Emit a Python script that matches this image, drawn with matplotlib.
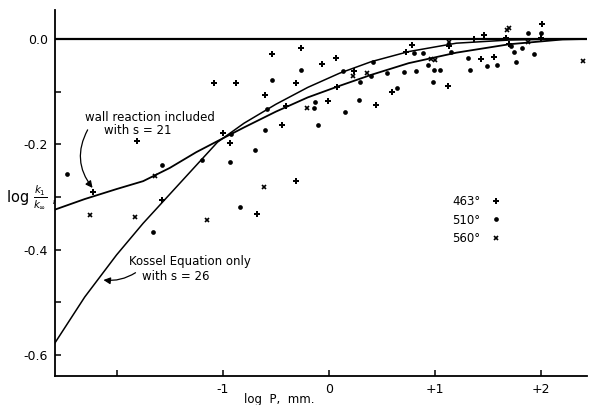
import numpy as np
import matplotlib
matplotlib.use('Agg')
import matplotlib.pyplot as plt

plt.rcParams['font.family'] = ['DejaVu Sans']
plt.rcParams['axes.unicode_minus'] = False

logp_curve = [-2.58, -2.3, -2.0, -1.75, -1.5, -1.25, -1.05, -0.8, -0.5, -0.2,
              0.1, 0.4, 0.75, 1.2, 1.7, 2.2, 2.43]
kossel = [-0.577, -0.49, -0.41, -0.35, -0.295, -0.24, -0.196, -0.16, -0.124,
          -0.092, -0.065, -0.043, -0.024, -0.008, -0.002, 0.0, 0.0]
wall = [-0.324, -0.304, -0.285, -0.27, -0.245, -0.215, -0.194, -0.168, -0.138,
        -0.111, -0.089, -0.068, -0.046, -0.026, -0.010, -0.001, 0.0]

# 463 deg
x463 = [-1.81, -2.22, -1.57, -0.54, -0.26, -0.07, 0.07, -0.31, -1.08, -0.88,
        -0.60, -0.40, -0.01, 0.44, 0.59, 0.08, 0.24, -0.44, -1.00, -0.93,
        -0.31, -0.68, 0.78, 0.73, 1.12, 1.13, 1.37, 1.43, 1.46, 1.55, 1.67,
        1.70, 2.00, 2.01]
y463 = [-0.194, -0.291, -0.305, -0.029, -0.017, -0.048, -0.036, -0.084, -0.084,
        -0.084, -0.107, -0.128, -0.118, -0.126, -0.101, -0.091, -0.061, -0.164,
        -0.179, -0.198, -0.269, -0.333, -0.011, -0.025, -0.090, -0.013, 0.000,
        -0.038, 0.008, -0.034, 0.002, -0.010, 0.002, 0.029]
# 510 deg
x510 = [-1.57, -2.47, -1.66, -0.26, -0.54, -0.58, -0.14, -0.13, 0.15, 0.28,
        0.64, 0.29, 0.40, 0.41, 0.55, 0.13, -0.60, -0.10, -0.93, -0.70, -1.20,
        -0.92, -0.84, 0.71, 0.82, 0.80, 0.89, 0.93, 0.99, 1.05, 0.98, 1.15,
        1.31, 1.33, 1.49, 1.58, 1.71, 1.74, 1.76, 1.82, 1.87, 1.93, 2.00]
y510 = [-0.240, -0.257, -0.366, -0.059, -0.078, -0.133, -0.131, -0.120, -0.139,
        -0.116, -0.093, -0.082, -0.070, -0.044, -0.065, -0.061, -0.173, -0.164,
        -0.234, -0.211, -0.229, -0.181, -0.320, -0.063, -0.061, -0.027, -0.027,
        -0.050, -0.059, -0.059, -0.082, -0.025, -0.036, -0.059, -0.051, -0.050,
        -0.013, -0.025, -0.044, -0.017, 0.011, -0.029, 0.011]
# 560 deg
x560 = [-1.64, -2.25, -1.83, -0.21, 0.23, 0.36, -0.61, -1.15, 0.96, 1.00,
        1.13, 1.68, 1.70, 1.87, 2.39]
y560 = [-0.261, -0.335, -0.339, -0.131, -0.070, -0.065, -0.282, -0.343, -0.038,
        -0.040, -0.006, 0.017, 0.021, -0.006, -0.042]

xticks = [-2, -1, 0, 1, 2]
xticklabels = ['', '-1', '0', '+1', '+2']
yticks = [0.0, -0.1, -0.2, -0.3, -0.4, -0.5, -0.6]
yticklabels = ['0.0', '', '-0.2', '', '-0.4', '', '-0.6']

fig = plt.figure(figsize=(5.92, 4.05), dpi=100)
ax = fig.add_axes([55/592, 1-376/405, 532/592, 366/405])

ax.plot(logp_curve, kossel, 'k', lw=1.1)
ax.plot(logp_curve, wall, 'k', lw=1.3)
ax.axhline(0.0, color='k', lw=1.6)

ax.plot(x463, y463, 'P', color='k', ms=4.8, mew=0, ls='none', label='463°')
ax.plot(x510, y510, 'o', color='k', ms=3.4, mew=0, ls='none', label='510°')
ax.plot(x560, y560, 'x', color='k', ms=3.5, mew=1.2, ls='none', label='560°')

ax.set_xlim(-2.58, 2.43)
ax.set_ylim(-0.64, 0.055)
ax.spines['top'].set_visible(False)
ax.spines['right'].set_visible(False)
ax.spines['left'].set_linewidth(1.3)
ax.spines['bottom'].set_linewidth(1.3)
ax.set_xticks(xticks)
ax.set_xticklabels(xticklabels)
ax.set_yticks(yticks)
ax.set_yticklabels(yticklabels)
ax.tick_params(direction='in', length=4, width=1.1, labelsize=9, pad=5)

ax.legend(loc='upper left', bbox_to_anchor=(0.735, 0.51), frameon=False,
          markerfirst=False, fontsize=8.5, handlelength=1.0,
          handletextpad=0.8, labelspacing=0.45, borderpad=0)

kw = dict(fontsize=8.5, ha='center', va='center')
ax.text(-1.685, -0.149, 'wall reaction included', **kw)
ax.text(-1.80, -0.173, 'with s = 21', **kw)
ax.text(-1.31, -0.423, 'Kossel Equation only', **kw)
ax.text(-1.44, -0.451, 'with s = 26', **kw)

ax.annotate('', xy=(-2.21, -0.287), xytext=(-2.26, -0.168),
            arrowprops=dict(arrowstyle='-|>', color='k', lw=0.9,
                            connectionstyle='arc3,rad=0.35'))
ax.annotate('', xy=(-2.15, -0.457), xytext=(-1.80, -0.441),
            arrowprops=dict(arrowstyle='-|>', color='k', lw=0.9,
                            connectionstyle='arc3,rad=-0.2'))

fig.text(6/592, 1-197/405, r'$\log\,\frac{k_1}{k_\infty}$ ,', fontsize=10.5,
         ha='left', va='center')
fig.text(279/592, 1-399/405, 'log  P,  mm.', fontsize=8.5, ha='center',
         va='center')

fig.savefig('out.png', dpi=100)
